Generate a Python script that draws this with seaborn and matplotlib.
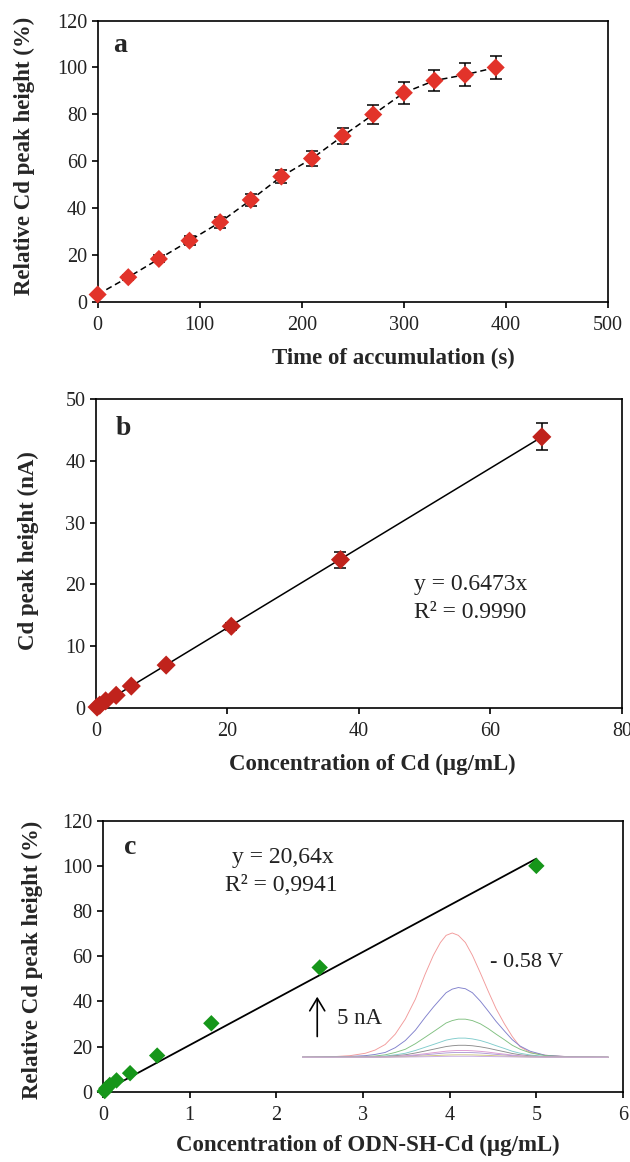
import pandas as pd
import matplotlib
matplotlib.use("Agg")
import matplotlib.pyplot as plt
import seaborn as sns

# --- panel a: accumulation time ---
time_s = [0, 30, 60, 90, 120, 150, 180, 210, 240, 270, 300, 330, 360, 390]
rel_height_a = [3, 10.4, 18.2, 26, 33.9, 43.4, 53.4, 61.1, 70.7, 79.9, 89.2, 94.4, 96.9, 100]
err_a = [0.5, 1.0, 1.5, 2.0, 2.3, 2.6, 2.8, 3.2, 3.6, 4.0, 4.6, 4.6, 5.0, 5.1]

# --- panel b: calibration with Cd ---
conc_cd = [0.2, 0.6, 1.5, 3.1, 5.4, 10.7, 20.6, 37.2, 67.8]
peak_nA = [0.1, 0.4, 1.1, 2.0, 3.5, 6.9, 13.2, 24.0, 43.9]
err_b = [0.1, 0.1, 0.2, 0.2, 0.3, 0.4, 0.6, 1.3, 2.2]
slope_b = 0.6473

# --- panel c: ODN-SH-Cd ---
conc_odn = [0.02, 0.039, 0.078, 0.156, 0.3125, 0.625, 1.25, 2.5, 5.0]
rel_height_c = [0.3, 1.5, 3.0, 5.0, 8.2, 16.0, 30.3, 55.0, 100.0]
slope_c = 20.64

# inset voltammograms (potential in V, current in nA above baseline)
potential = [-0.920, -0.856, -0.811, -0.776, -0.754, -0.731, -0.708, -0.685, -0.662,
             -0.640, -0.621, -0.605, -0.592, -0.578, -0.564, -0.548, -0.532, -0.514,
             -0.496, -0.478, -0.459, -0.441, -0.423, -0.400, -0.366, -0.309, -0.222]
traces = {
    "5.0":    [0, 0.05, 0.2, 0.5, 0.9, 1.6, 2.9, 4.8, 7.3, 10.4, 12.8, 14.4, 15.3, 15.6,
               15.3, 14.4, 12.8, 10.6, 8.3, 6.1, 4.2, 2.6, 1.3, 0.6, 0.25, 0.05, 0],
    "2.5":    [0, 0.05, 0.1, 0.2, 0.35, 0.6, 1.2, 2.1, 3.4, 5.0, 6.3, 7.3, 8.1, 8.55,
               8.75, 8.6, 8.1, 7.05, 5.8, 4.5, 3.3, 2.2, 1.4, 0.75, 0.25, 0.05, 0],
    "1.25":   [0, 0.02, 0.05, 0.1, 0.15, 0.3, 0.6, 1.0, 1.7, 2.5, 3.2, 3.8, 4.3, 4.6,
               4.78, 4.78, 4.6, 4.2, 3.6, 2.9, 2.2, 1.5, 1.0, 0.55, 0.2, 0.03, 0],
    "0.625":  [0, 0.01, 0.03, 0.05, 0.08, 0.15, 0.3, 0.5, 0.85, 1.25, 1.6, 1.9, 2.15, 2.3,
               2.4, 2.4, 2.3, 2.1, 1.8, 1.45, 1.1, 0.75, 0.5, 0.28, 0.1, 0.02, 0],
    "0.3125": [0, 0.01, 0.02, 0.03, 0.05, 0.09, 0.19, 0.31, 0.53, 0.78, 1.0, 1.19, 1.34, 1.44,
               1.5, 1.5, 1.44, 1.31, 1.13, 0.91, 0.69, 0.47, 0.31, 0.17, 0.06, 0.01, 0],
    "0.156":  [0, 0, 0.01, 0.02, 0.03, 0.05, 0.11, 0.18, 0.3, 0.44, 0.57, 0.67, 0.76, 0.81,
               0.85, 0.85, 0.81, 0.74, 0.64, 0.51, 0.39, 0.27, 0.18, 0.1, 0.04, 0.01, 0],
    "0.078":  [0, 0, 0.01, 0.01, 0.02, 0.04, 0.08, 0.13, 0.21, 0.31, 0.4, 0.48, 0.54, 0.58,
               0.6, 0.6, 0.58, 0.53, 0.45, 0.36, 0.28, 0.19, 0.13, 0.07, 0.03, 0, 0],
    "0.039":  [0, 0, 0, 0.01, 0.01, 0.02, 0.04, 0.06, 0.11, 0.16, 0.2, 0.24, 0.27, 0.29,
               0.3, 0.3, 0.29, 0.26, 0.23, 0.18, 0.14, 0.09, 0.06, 0.03, 0.01, 0, 0],
    "0.02":   [0, 0, 0, 0, 0, 0.01, 0.02, 0.03, 0.04, 0.06, 0.08, 0.1, 0.11, 0.12,
               0.12, 0.12, 0.12, 0.1, 0.09, 0.07, 0.06, 0.04, 0.03, 0.01, 0, 0, 0],
}
trace_colors = ["#f29a9a", "#8080cc", "#80c080", "#80cccc", "#8c8c8c",
                "#dc9ad0", "#b09ad6", "#ccc47c", "#c8aae4"]

sns.set_theme(style="ticks")
plt.rcParams["font.family"] = ["Liberation Serif", "DejaVu Serif"]
plt.rcParams["axes.linewidth"] = 1.2
plt.rcParams["xtick.major.width"] = 1.2
plt.rcParams["ytick.major.width"] = 1.2
plt.rcParams["xtick.major.size"] = 4.5
plt.rcParams["ytick.major.size"] = 4.5

TICK_FS = 14.5
LABEL_FS = 16.5

fig = plt.figure(figsize=(6.3, 11.62), dpi=100)
ax_a = fig.add_axes([0.155, 0.7405, 0.810, 0.2417])
ax_b = fig.add_axes([0.152, 0.391, 0.8354, 0.2654])
ax_c = fig.add_axes([0.1635, 0.0605, 0.8254, 0.2332])


def style_axes(ax):
    for s in ax.spines.values():
        s.set_visible(True)
        s.set_color("black")
    ax.tick_params(axis="x", labelsize=TICK_FS, pad=6, colors="black", labelcolor="#222222")
    ax.tick_params(axis="y", labelsize=TICK_FS, pad=3, colors="black", labelcolor="#222222")


# ---- a ----
df_a = pd.DataFrame({"t": time_s, "h": rel_height_a})
sns.lineplot(data=df_a, x="t", y="h", ax=ax_a, color="black", lw=1.1,
             dashes=False, linestyle=(0, (4, 2.5)))
ax_a.errorbar(time_s, rel_height_a, yerr=err_a, fmt="none", ecolor="black",
              elinewidth=1.1, capsize=4.5, capthick=1.1, zorder=2)
sns.scatterplot(data=df_a, x="t", y="h", ax=ax_a, marker="D", s=85, color="#e2332a",
                edgecolor="none", zorder=3, clip_on=False)
ax_a.set_xlim(0, 500)
ax_a.set_ylim(0, 120)
ax_a.set_xticks(range(0, 501, 100))
ax_a.set_yticks(range(0, 121, 20))
ax_a.set_xlabel("Time of accumulation (s)", fontsize=LABEL_FS, fontweight="bold")
ax_a.set_ylabel("Relative Cd peak height (%)", fontsize=LABEL_FS, fontweight="bold")
ax_a.xaxis.set_label_coords(0.58, -0.165)
ax_a.yaxis.set_label_coords(-0.122, 0.518)
ax_a.text(0.03, 0.89, "a", transform=ax_a.transAxes, fontsize=20, fontweight="bold")
style_axes(ax_a)

# ---- b ----
df_b = pd.DataFrame({"c": conc_cd, "i": peak_nA})
fit_b = pd.DataFrame({"c": [min(conc_cd), max(conc_cd)]})
fit_b["i"] = slope_b * fit_b["c"]
sns.lineplot(data=fit_b, x="c", y="i", ax=ax_b, color="black", lw=1.1)
ax_b.errorbar(conc_cd, peak_nA, yerr=err_b, fmt="none", ecolor="black",
              elinewidth=1.1, capsize=4.5, capthick=1.1, zorder=2)
sns.scatterplot(data=df_b, x="c", y="i", ax=ax_b, marker="D", s=95, color="#c0231c",
                edgecolor="none", zorder=3, clip_on=False)
ax_b.set_xlim(0, 80)
ax_b.set_ylim(0, 50)
ax_b.set_xticks(range(0, 81, 20))
ax_b.set_yticks(range(0, 51, 10))
ax_b.set_xlabel("Concentration of Cd (µg/mL)", fontsize=LABEL_FS, fontweight="bold")
ax_b.set_ylabel("Cd peak height (nA)", fontsize=LABEL_FS, fontweight="bold")
ax_b.xaxis.set_label_coords(0.525, -0.15)
ax_b.yaxis.set_label_coords(-0.108, 0.508)
ax_b.text(0.037, 0.884, "b", transform=ax_b.transAxes, fontsize=20, fontweight="bold")
ax_b.text(48.4, 19.9, f"y = {slope_b}x", fontsize=17, va="center", ha="left", color="#222222")
ax_b.text(48.4, 15.4, "R² = 0.9990", fontsize=17, va="center", ha="left", color="#222222")
style_axes(ax_b)

# ---- c ----
df_c = pd.DataFrame({"c": conc_odn, "h": rel_height_c})
fit_c = pd.DataFrame({"c": [min(conc_odn), max(conc_odn)]})
fit_c["h"] = slope_c * fit_c["c"]
sns.lineplot(data=fit_c, x="c", y="h", ax=ax_c, color="black", lw=1.3)
sns.scatterplot(data=df_c, x="c", y="h", ax=ax_c, marker="D", s=70, color="#16961a",
                edgecolor="none", zorder=3, clip_on=False)
ax_c.set_xlim(0, 6)
ax_c.set_ylim(0, 120)
ax_c.set_xticks(range(0, 7))
ax_c.set_yticks(range(0, 121, 20))
ax_c.set_xlabel("Concentration of ODN-SH-Cd (µg/mL)", fontsize=LABEL_FS, fontweight="bold")
ax_c.set_ylabel("Relative Cd peak height (%)", fontsize=LABEL_FS, fontweight="bold")
ax_c.xaxis.set_label_coords(0.51, -0.16)
ax_c.yaxis.set_label_coords(-0.115, 0.485)
ax_c.text(0.04, 0.879, "c", transform=ax_c.transAxes, fontsize=20, fontweight="bold")
ax_c.text(2.08, 103.8, "y = 20,64x", fontsize=17, va="center", ha="center", color="#222222")
ax_c.text(2.06, 91.2, "R² = 0,9941", fontsize=17, va="center", ha="center", color="#222222")
style_axes(ax_c)

# inset: stripping voltammograms
ins = ax_c.inset_axes([2.3, 13.5, 3.54, 58.2], transform=ax_c.transData)
df_v = pd.DataFrame(traces)
df_v["E"] = potential
df_v = df_v.melt(id_vars="E", var_name="trace", value_name="I")
sns.lineplot(data=df_v, x="E", y="I", hue="trace", palette=trace_colors, ax=ins,
             lw=0.65, legend=False, sort=False)
ins.set_xlim(-0.92, -0.22)
ins.set_ylim(-0.5, 16)
ins.axis("off")
ins.patch.set_alpha(0)
ins.annotate("", xy=(-0.886, 7.6), xytext=(-0.886, 2.6),
             arrowprops=dict(arrowstyle="->,head_length=0.5,head_width=0.3",
                             lw=1.2, color="black", mutation_scale=18, shrinkA=0, shrinkB=0))
ins.text(-0.842, 4.9, "5 nA", fontsize=16.5, va="center", ha="left", color="#222222")
ins.text(-0.491, 11.9, "- 0.58 V", fontsize=16, va="center", ha="left", color="#222222")

fig.savefig("out.png", dpi=100)
